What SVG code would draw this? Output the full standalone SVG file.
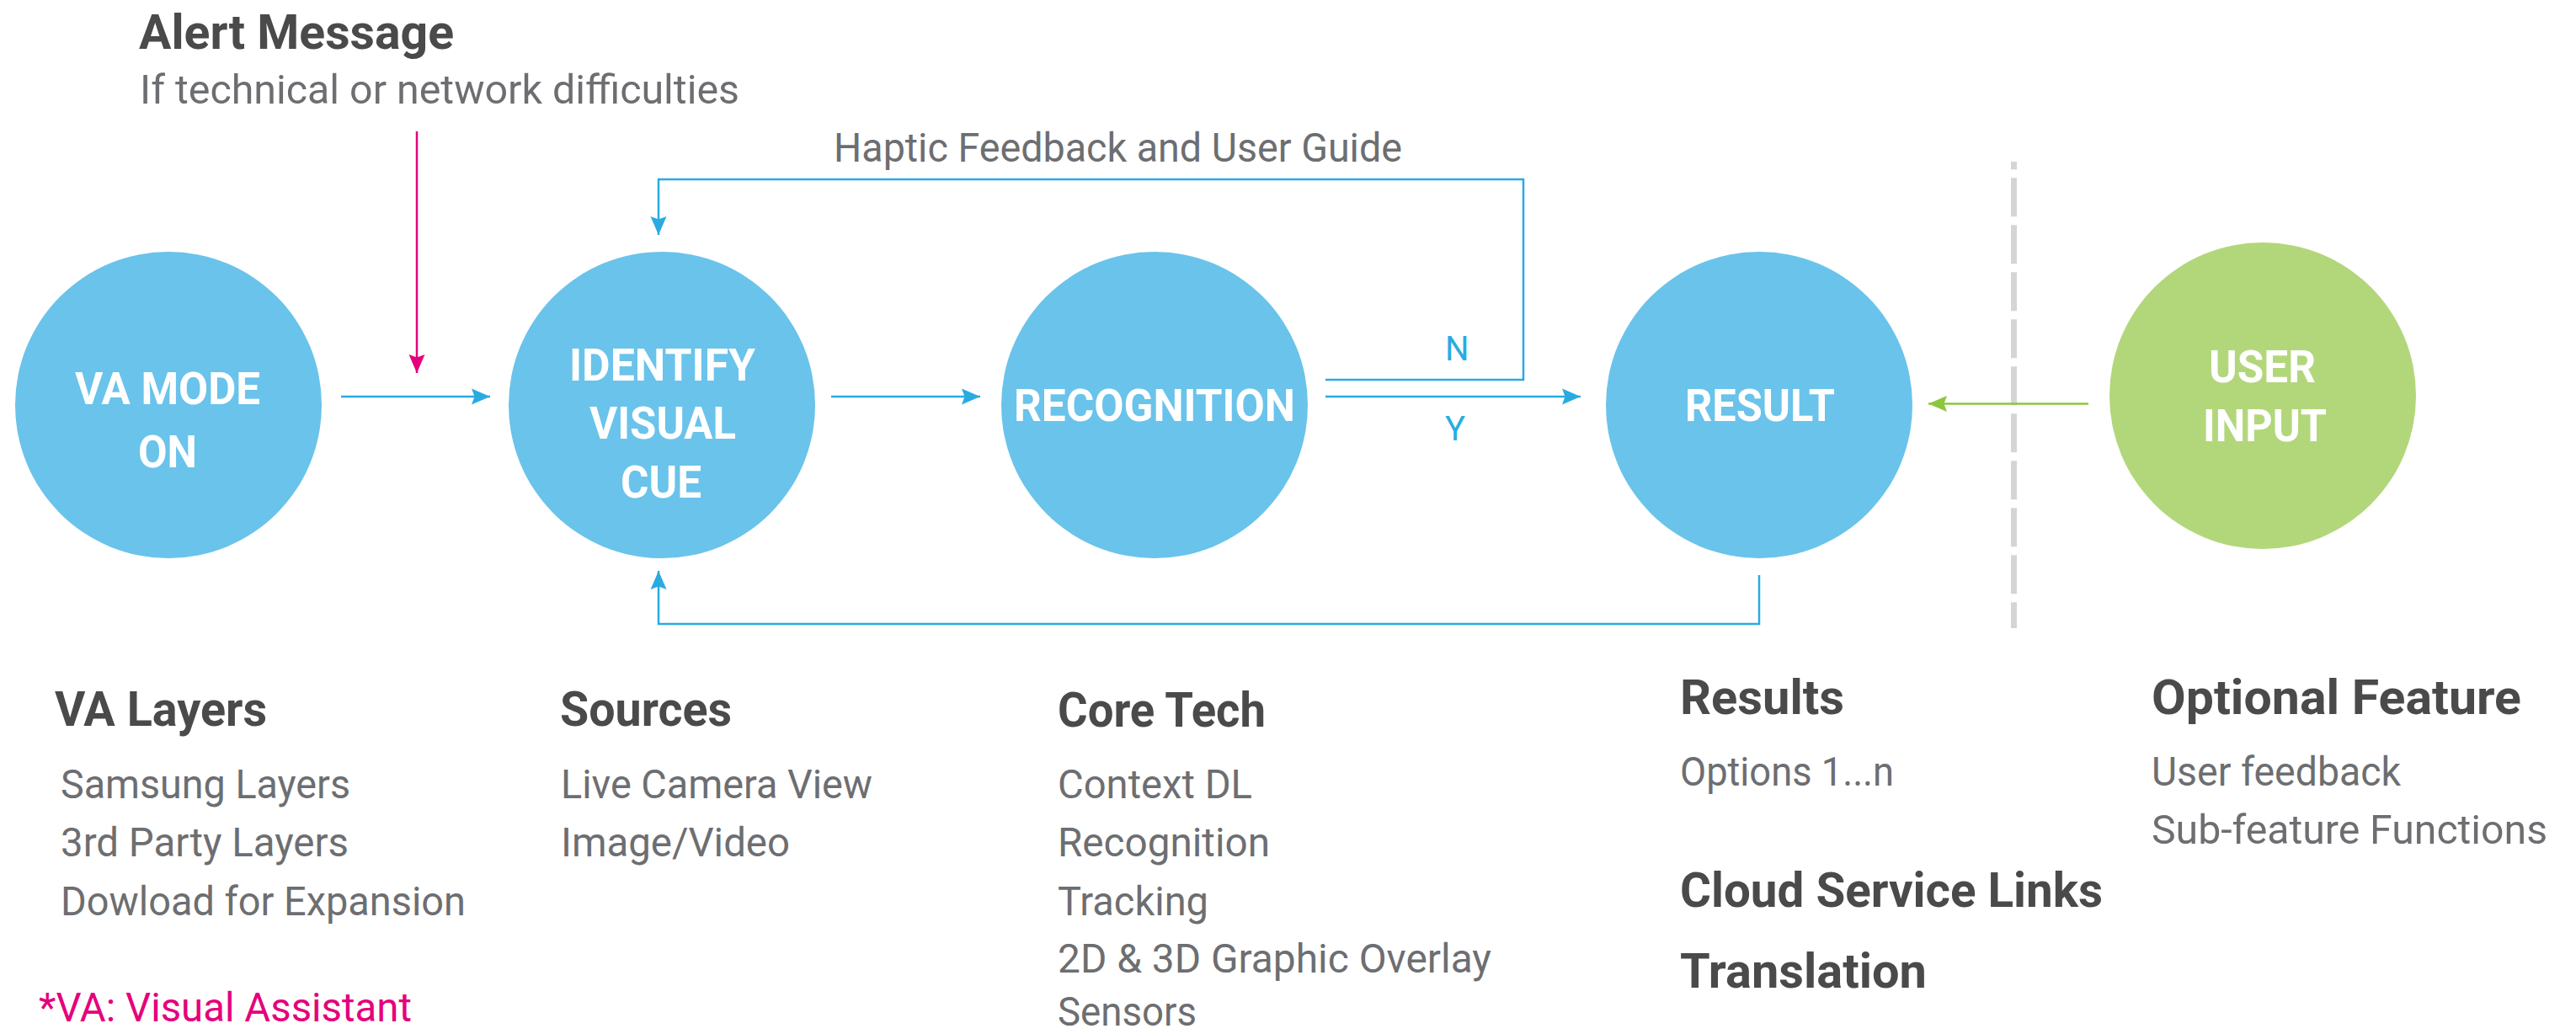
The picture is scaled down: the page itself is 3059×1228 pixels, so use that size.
<svg xmlns="http://www.w3.org/2000/svg" width="3059" height="1228" viewBox="0 0 3059 1228">
<style>
text{font-family:Roboto,"Liberation Sans",sans-serif}
.lbl{fill:#ffffff;font-weight:bold;font-size:53px}
.hd{fill:#4a4a4a;font-weight:bold;font-size:57px}
.it{fill:#6d6e71;font-size:48px}
.yn{fill:#29abe2;font-size:40px}
.blue{fill:#6ac3ea}
.green{fill:#b2d77b}
.conn{fill:none;stroke:#29abe2;stroke-width:2.5}
</style>
<defs>
<marker id="ab" viewBox="-23 -10 24 20" markerUnits="userSpaceOnUse" markerWidth="24" markerHeight="20" refX="0" refY="0" orient="auto"><path d="M0,0 L-22,-9.5 L-18.5,0 L-22,9.5 Z" fill="#29abe2"/></marker>
<marker id="ap" viewBox="-23 -10 24 20" markerUnits="userSpaceOnUse" markerWidth="24" markerHeight="20" refX="0" refY="0" orient="auto"><path d="M0,0 L-22,-9.5 L-18.5,0 L-22,9.5 Z" fill="#e5007d"/></marker>
<marker id="ag" viewBox="-23 -10 24 20" markerUnits="userSpaceOnUse" markerWidth="24" markerHeight="20" refX="0" refY="0" orient="auto"><path d="M0,0 L-22,-9.5 L-18.5,0 L-22,9.5 Z" fill="#8cc63f"/></marker>
</defs>
<rect width="3059" height="1228" fill="#ffffff"/>

<g id="alert">
<text class="hd" x="165" y="58" font-size="58" textLength="374" lengthAdjust="spacingAndGlyphs">Alert Message</text>
<text class="it" x="166" y="123" textLength="712" lengthAdjust="spacingAndGlyphs">If technical or network difficulties</text>
</g>

<g id="divider">
<line x1="2391.5" y1="192" x2="2391.5" y2="746" stroke="#d5d5d8" stroke-width="7" stroke-dasharray="46 10" stroke-dashoffset="36.7"/>
</g>

<g id="connectors">
<line x1="495" y1="156" x2="495" y2="443" stroke="#e5007d" stroke-width="2.5" marker-end="url(#ap)"/>
<line class="conn" x1="405" y1="471" x2="582" y2="471" marker-end="url(#ab)"/>
<line class="conn" x1="987" y1="471" x2="1164" y2="471" marker-end="url(#ab)"/>
<line class="conn" x1="1574" y1="471" x2="1877" y2="471" marker-end="url(#ab)"/>
<polyline class="conn" points="1574,451 1809,451 1809,213 782,213 782,279" marker-end="url(#ab)"/>
<polyline class="conn" points="2089,683 2089,741 782,741 782,678" marker-end="url(#ab)"/>
<line x1="2480" y1="479.5" x2="2290" y2="479.5" stroke="#8cc63f" stroke-width="2.5" marker-end="url(#ag)"/>
<text class="it" x="990" y="192" font-size="46" textLength="675" lengthAdjust="spacingAndGlyphs">Haptic Feedback and User Guide</text>
<text class="yn" x="1716" y="428">N</text>
<text class="yn" x="1716" y="523">Y</text>
</g>

<g id="va-mode">
<circle class="blue" cx="200" cy="481" r="182"/>
<text class="lbl" x="89" y="480" textLength="220" lengthAdjust="spacingAndGlyphs">VA MODE</text>
<text class="lbl" x="164" y="555" textLength="70" lengthAdjust="spacingAndGlyphs">ON</text>
</g>

<g id="identify">
<circle class="blue" cx="786" cy="481" r="182"/>
<text class="lbl" x="676" y="452" textLength="221" lengthAdjust="spacingAndGlyphs">IDENTIFY</text>
<text class="lbl" x="700" y="521" textLength="174" lengthAdjust="spacingAndGlyphs">VISUAL</text>
<text class="lbl" x="737" y="591" textLength="96" lengthAdjust="spacingAndGlyphs">CUE</text>
</g>

<g id="recognition">
<circle class="blue" cx="1371" cy="481" r="182"/>
<text class="lbl" x="1204" y="500" textLength="334" lengthAdjust="spacingAndGlyphs">RECOGNITION</text>
</g>

<g id="result">
<circle class="blue" cx="2089" cy="481" r="182"/>
<text class="lbl" x="2001" y="500" textLength="178" lengthAdjust="spacingAndGlyphs">RESULT</text>
</g>

<g id="user-input">
<circle class="green" cx="2687" cy="470" r="182"/>
<text class="lbl" x="2623" y="454" textLength="127" lengthAdjust="spacingAndGlyphs">USER</text>
<text class="lbl" x="2616" y="524" textLength="147" lengthAdjust="spacingAndGlyphs">INPUT</text>
</g>

<g id="va-layers">
<text class="hd" x="65" y="862" textLength="252" lengthAdjust="spacingAndGlyphs">VA Layers</text>
<text class="it" x="72" y="948" textLength="344" lengthAdjust="spacingAndGlyphs">Samsung Layers</text>
<text class="it" x="72" y="1017" textLength="342" lengthAdjust="spacingAndGlyphs">3rd Party Layers</text>
<text class="it" x="72" y="1087" textLength="481" lengthAdjust="spacingAndGlyphs">Dowload for Expansion</text>
<text class="it" x="46" y="1213" style="fill:#e5007d" textLength="443" lengthAdjust="spacingAndGlyphs">*VA: Visual Assistant</text>
</g>

<g id="sources">
<text class="hd" x="665" y="862" textLength="204" lengthAdjust="spacingAndGlyphs">Sources</text>
<text class="it" x="666" y="948" textLength="370" lengthAdjust="spacingAndGlyphs">Live Camera View</text>
<text class="it" x="666" y="1017" textLength="272" lengthAdjust="spacingAndGlyphs">Image/Video</text>
</g>

<g id="core-tech">
<text class="hd" x="1256" y="863" textLength="247" lengthAdjust="spacingAndGlyphs">Core Tech</text>
<text class="it" x="1256" y="948" textLength="231" lengthAdjust="spacingAndGlyphs">Context DL</text>
<text class="it" x="1256" y="1017" textLength="252" lengthAdjust="spacingAndGlyphs">Recognition</text>
<text class="it" x="1256" y="1087" textLength="179" lengthAdjust="spacingAndGlyphs">Tracking</text>
<text class="it" x="1256" y="1155" textLength="515" lengthAdjust="spacingAndGlyphs">2D &amp; 3D Graphic Overlay</text>
<text class="it" x="1256" y="1218" textLength="165" lengthAdjust="spacingAndGlyphs">Sensors</text>
</g>

<g id="results">
<text class="hd" x="1995" y="848" textLength="195" lengthAdjust="spacingAndGlyphs">Results</text>
<text class="it" x="1995" y="933" textLength="254" lengthAdjust="spacingAndGlyphs">Options 1...n</text>
<text class="hd" x="1995" y="1077" textLength="502" lengthAdjust="spacingAndGlyphs">Cloud Service Links</text>
<text class="hd" x="1995" y="1173" textLength="293" lengthAdjust="spacingAndGlyphs">Translation</text>
</g>

<g id="optional-feature">
<text class="hd" x="2555" y="848" textLength="439" lengthAdjust="spacingAndGlyphs">Optional Feature</text>
<text class="it" x="2555" y="933" textLength="296" lengthAdjust="spacingAndGlyphs">User feedback</text>
<text class="it" x="2555" y="1002" textLength="470" lengthAdjust="spacingAndGlyphs">Sub-feature Functions</text>
</g>
</svg>
